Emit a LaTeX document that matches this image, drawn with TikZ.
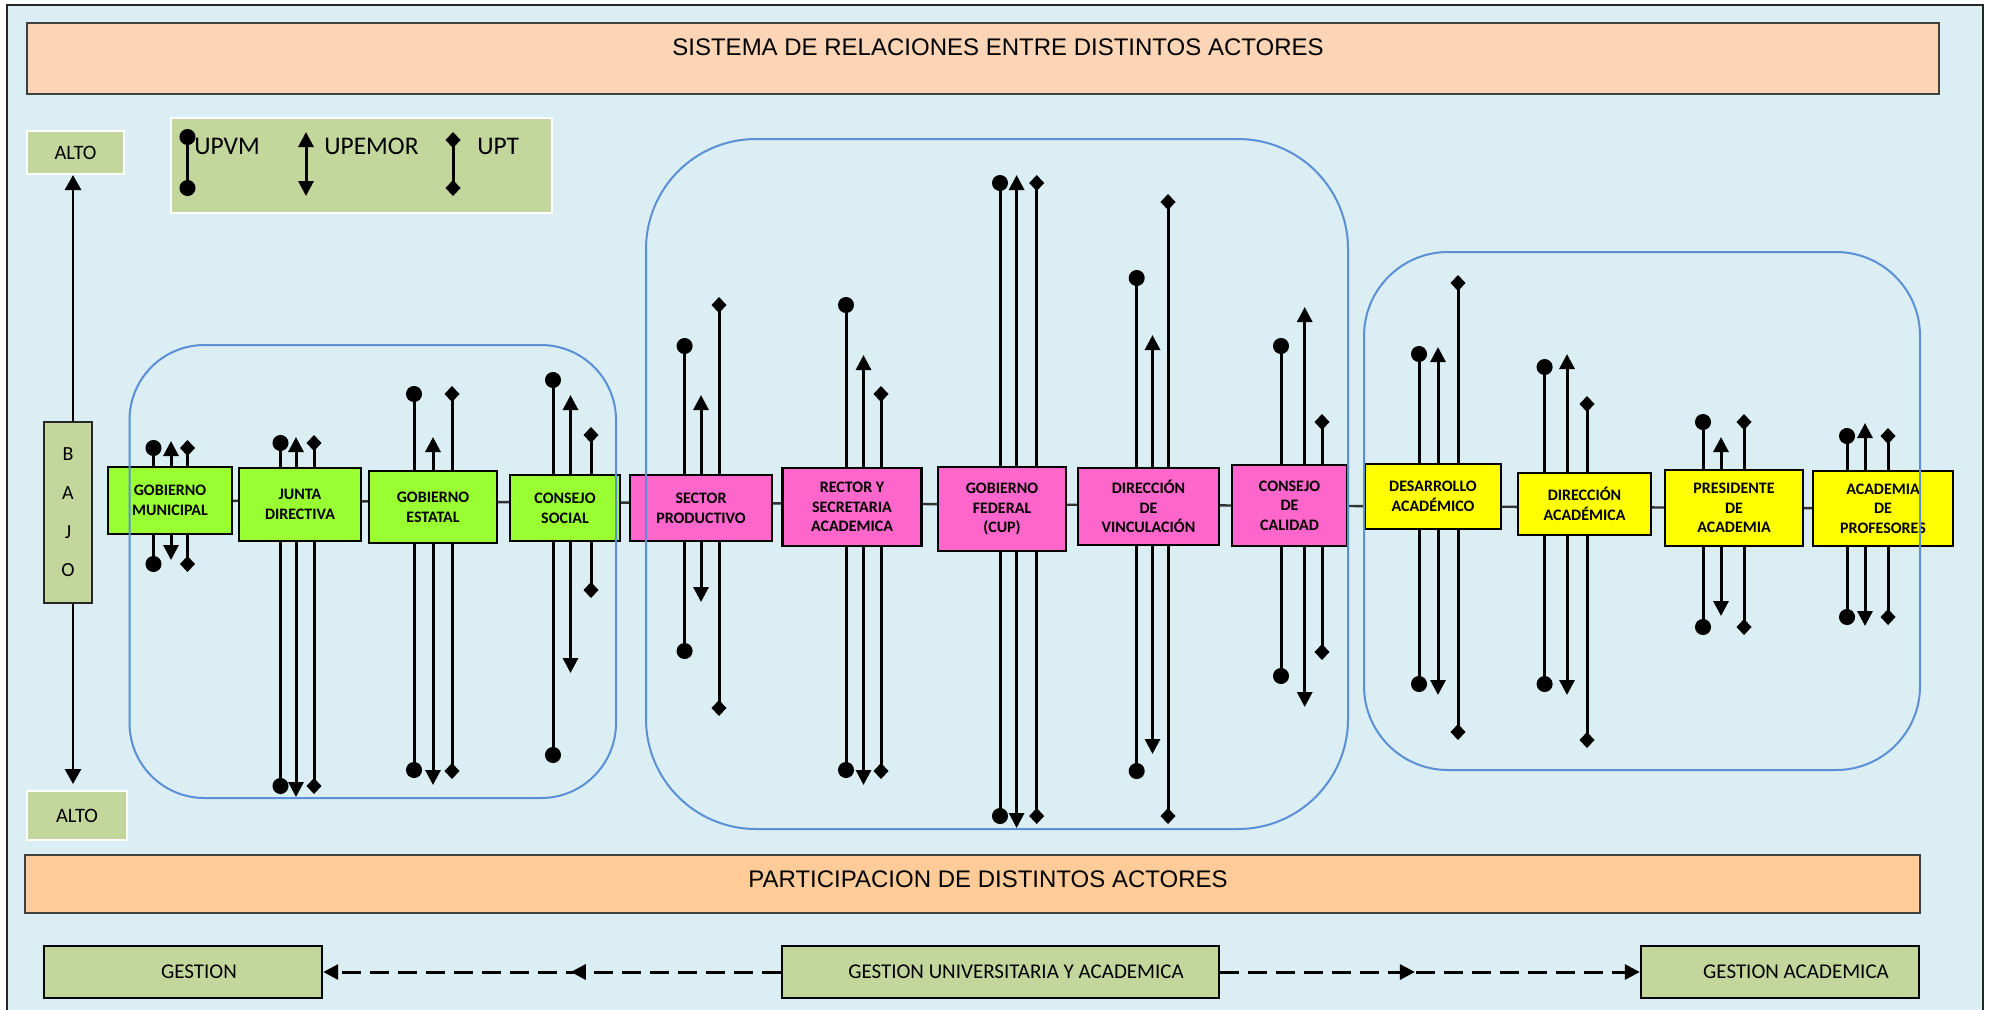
\documentclass[tikz,border=0pt]{standalone}
\usepackage{fontspec}
\setmainfont{Carlito}
\newfontfamily\arialf{Liberation Sans}
\usetikzlibrary{arrows.meta,decorations.markings}
\definecolor{bgblue}{HTML}{DAEEF3}
\definecolor{peachA}{HTML}{FBD5B5}
\definecolor{peachB}{HTML}{FFCC99}
\definecolor{oliveg}{HTML}{C3D69B}
\definecolor{actgreen}{HTML}{99FF33}
\definecolor{actpink}{HTML}{FF66CC}
\definecolor{actyellow}{HTML}{FFFF00}
\definecolor{grpblue}{HTML}{5B8FD6}
\pgfdeclarelayer{back}\pgfdeclarelayer{mid}\pgfdeclarelayer{front}
\pgfsetlayers{back,mid,main,front}
\tikzset{
 actor/.style={draw=black, line width=1.2pt, inner sep=0pt, align=center, font=\bfseries\fontsize{8}{9.8}\selectfont},
 gbox/.style={actor, fill=actgreen},
 pbox/.style={actor, fill=actpink},
 ybox/.style={actor, fill=actyellow},
 rel/.style={line width=1.5pt, draw=black},
 tipC/.style={arrows={Circle[length=8pt]-Circle[length=8pt]}},
 tipA/.style={arrows={Triangle[width=7.5pt,length=7.5pt]-Triangle[width=7.5pt,length=7.5pt]}},
 tipD/.style={arrows={Turned Square[width=7.5pt,length=8pt]-Turned Square[width=7.5pt,length=8pt]}},
 titlebar/.style={draw=black!75, line width=1pt, inner sep=0pt, font=\arialf\fontsize{12}{14}\selectfont},
 olivewhite/.style={fill=oliveg, draw=white, line width=1pt, inner sep=0pt, font=\fontsize{10.25}{12}\selectfont},
 gestbox/.style={fill=oliveg, draw=black, line width=1.2pt, inner sep=0pt, minimum height=26pt, font=\fontsize{10.5}{12.6}\selectfont},
 legtext/.style={anchor=base west, inner sep=0pt, font=\fontsize{12.7}{15}\selectfont},
 axarrow/.style={line width=1.4pt, -{Triangle[width=8pt,length=7.5pt]}},
 hline/.style={line width=1.2pt, draw=black!80},
 grp/.style={draw=grpblue, line width=1pt},
 darr/.style={line width=1.5pt, dash pattern=on 9.5pt off 4.5pt, -{Triangle[width=7.5pt,length=7.5pt]}, postaction={decorate}}
}
\newcommand\tieC[4]{\coordinate (#1t) at (#2,{#3-8}); \coordinate (#1b) at (#2,{#4+8}); \draw[rel,tipC] (#1t) -- (#1b);}
\newcommand\tieA[4]{\coordinate (#1t) at (#2,#3); \coordinate (#1b) at (#2,#4); \draw[rel,tipA] (#1t) -- (#1b);}
\newcommand\tieD[4]{\coordinate (#1t) at (#2,{#3-8}); \coordinate (#1b) at (#2,{#4+8}); \draw[rel,tipD] (#1t) -- (#1b);}
\begin{document}
\begin{tikzpicture}[x=0.5pt, y=-0.5pt]
\useasboundingbox (0,0) rectangle (1990,1009);
\begin{pgfonlayer}{back}
\fill[white] (0,0) rectangle (1990,1009);
\draw[fill=bgblue, draw=black!85, line width=1pt] (7,5) rectangle (1983,1030);
\end{pgfonlayer}

% title bars
\node[titlebar, fill=peachA, minimum width=956pt, minimum height=35.5pt] (title) at (983,58.5)
  {\raisebox{1.75pt}[0pt][0pt]{\hspace*{15pt}SISTEMA DE RELACIONES ENTRE DISTINTOS ACTORES}};
\node[titlebar, fill=peachB, minimum width=947.5pt, minimum height=29pt] (part) at (972.5,884)
  {\raisebox{-1.75pt}[0pt][0pt]{\hspace*{15.5pt}PARTICIPACION DE DISTINTOS ACTORES}};

% legend
\node[olivewhite, minimum width=190.5pt, minimum height=47.5pt] (legend) at (361.5,165.5) {};
\tieC{lc}{187.5}{137}{188}
\tieA{la}{306}{132}{196}
\tieD{ld}{453}{140}{188}
\node[legtext] (tupvm) at (194,154) {UPVM};
\node[legtext] (tupemor) at (324,154) {UPEMOR};
\node[legtext] (tupt) at (477,154) {UPT};

% axis
\node[olivewhite, minimum width=48.5pt, minimum height=21.5pt] (alto1) at (75.5,152.5) {ALTO};
\node[olivewhite, minimum width=50pt, minimum height=24.5pt] (alto2) at (77,815.5) {ALTO};
\node[fill=oliveg, draw=black!85, line width=1.2pt, inner sep=0pt, minimum width=24pt, minimum height=90.5pt,
  align=center, font=\fontsize{10}{19.35}\selectfont] (bajo) at (68,512.5) {B\\A\\J\\O};
\draw[axarrow] ([xshift=2.5pt]bajo.north) -- ([xshift=2.5pt]bajo.north |- alto1.south);
\draw[axarrow, shorten >=3pt] ([xshift=2.5pt]bajo.south) -- ([xshift=2.5pt]bajo.south |- alto2.north);

% actors
\node[gbox, minimum width=61.75pt, minimum height=33.5pt] (gm) at (170,500.5) {GOBIERNO\\MUNICIPAL};
\node[gbox, minimum width=61.25pt, minimum height=36.5pt] (jd) at (300,504.5) {JUNTA\\DIRECTIVA};
\node[gbox, minimum width=64pt, minimum height=36pt] (ge) at (433,507) {GOBIERNO\\ESTATAL};
\node[gbox, minimum width=55pt, minimum height=33pt] (cs) at (565,508) {CONSEJO\\SOCIAL};
\node[pbox, minimum width=71.25pt, minimum height=33pt] (sp) at (701,508) {SECTOR\\PRODUCTIVO};
\node[pbox, minimum width=69.5pt, minimum height=39pt] (rs) at (852,507) {RECTOR Y\\SECRETARIA\\ACADEMICA};
\node[pbox, minimum width=64pt, minimum height=42pt] (gf) at (1002,509) {GOBIERNO\\FEDERAL\\(CUP)};
\node[pbox, minimum width=70.5pt, minimum height=38.5pt] (dv) at (1148.5,506.5) {DIRECCIÓN\\DE\\VINCULACIÓN};
\node[pbox, minimum width=57.5pt, minimum height=40.5pt] (cc) at (1289.5,505.5) {CONSEJO\\DE\\CALIDAD};
\node[ybox, minimum width=68pt, minimum height=32.5pt] (da) at (1433,496.5) {DESARROLLO\\ACADÉMICO};
\node[ybox, minimum width=66.5pt, minimum height=31pt] (dac) at (1584.5,504) {DIRECCIÓN\\ACADÉMICA};
\node[ybox, minimum width=69.25pt, minimum height=38pt] (pa) at (1734,508) {PRESIDENTE\\DE\\ACADEMIA};
\node[ybox, minimum width=70pt, minimum height=37.5pt] (ap) at (1883,508.5) {ACADEMIA\\DE\\PROFESORES};

\begin{pgfonlayer}{mid}
\draw[hline] (gm.center) -- (ap.center);
\tieC{gmc}{153.5}{448}{564} \tieA{gma}{171}{441}{560} \tieD{gmd}{187.5}{448}{564}
\tieC{jdc}{280.5}{443}{786} \tieA{jda}{296}{437}{797} \tieD{jdd}{314}{443}{786}
\tieC{gec}{414}{394}{770} \tieA{gea}{433}{437}{785} \tieD{ged}{452}{394}{771}
\tieC{csc}{553}{380}{755} \tieA{csa}{570.5}{395}{673} \tieD{csd}{591}{435}{590}
\tieC{spc}{684.6}{346}{651} \tieA{spa}{701}{395}{602} \tieD{spd}{719}{305}{708}
\tieC{rsc}{846}{305}{770} \tieA{rsa}{863.5}{355}{785} \tieD{rsd}{881}{394}{771}
\tieC{gfc}{1000}{183}{816} \tieA{gfa}{1016.6}{175}{828} \tieD{gfd}{1036.7}{183}{816}
\tieC{dvc}{1136.7}{278}{771} \tieA{dva}{1152.5}{335}{754} \tieD{dvd}{1168}{202}{816}
\tieC{ccc}{1281}{346}{676} \tieA{cca}{1304.7}{307}{707} \tieD{ccd}{1322}{422}{652}
\tieC{dac}{1419}{354}{684} \tieA{daa}{1438}{347}{695} \tieD{dad}{1458}{283}{732}
\tieC{dacc}{1544.6}{367}{684} \tieA{daca}{1567}{354}{695} \tieD{dacd}{1587}{404}{740}
\tieC{pac}{1703}{422}{627} \tieA{paa}{1721}{437}{616} \tieD{pad}{1744}{422}{627}
\tieC{apc}{1847}{436}{617} \tieA{apa}{1865}{423}{626} \tieD{apd}{1888}{436}{617}
\end{pgfonlayer}

\begin{pgfonlayer}{front}
\draw[grp, rounded corners=37.5pt] (129.5,345) rectangle (616,798);
\draw[grp, rounded corners=55pt] (646,139) rectangle (1348,829);
\draw[grp, rounded corners=42pt] (1364,252) rectangle (1920,770);
\end{pgfonlayer}

% bottom row
\node[gestbox, minimum width=139pt] (gest) at (183,972) {\hspace*{16pt}GESTION};
\node[gestbox, minimum width=218.5pt] (gua) at (1000.5,972) {\hspace*{15.5pt}GESTION UNIVERSITARIA Y ACADEMICA};
\node[gestbox, minimum width=139pt] (ga) at (1780,972) {\hspace*{16pt}GESTION ACADEMICA};
\draw[darr, decoration={markings, mark=at position 0.459 with {\arrow{Triangle[width=7.5pt,length=7.5pt]}}}]
  (gua.west) -- (gest.east);
\draw[darr, decoration={markings, mark=at position 0.464 with {\arrow{Triangle[width=7.5pt,length=7.5pt]}}}]
  (gua.east) -- (ga.west);
\end{tikzpicture}
\end{document}
